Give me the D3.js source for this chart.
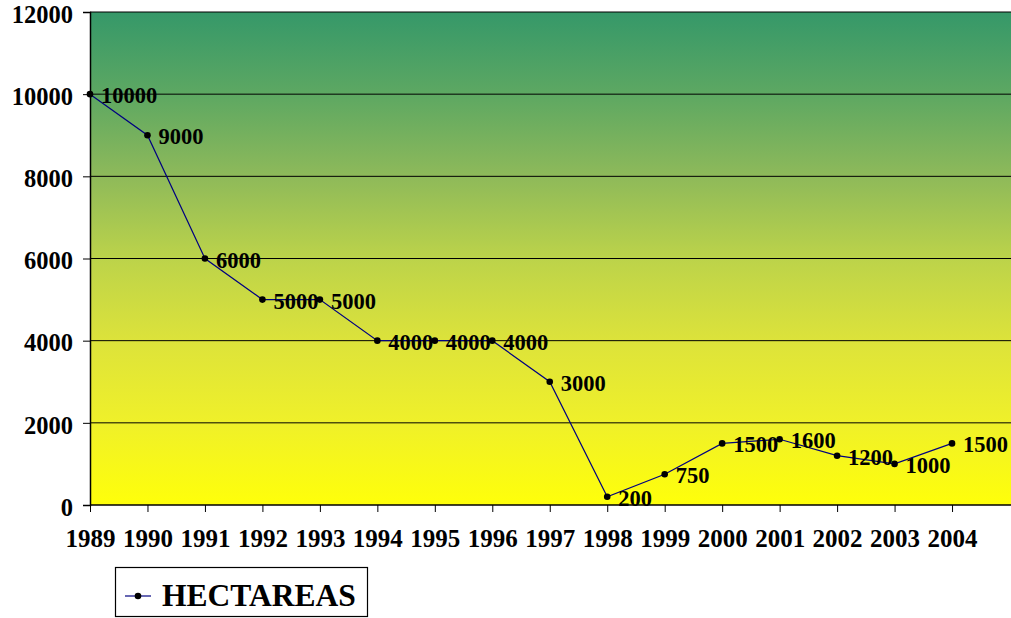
<!DOCTYPE html>
<html><head><meta charset="utf-8">
<script src="https://cdn.jsdelivr.net/npm/d3@7"></script>
<style>body{margin:0;background:#fff}svg{display:block}</style>
</head><body>
<script>
const years = [1989,1990,1991,1992,1993,1994,1995,1996,1997,1998,1999,2000,2001,2002,2003,2004];
const hectareas = [10000,9000,6000,5000,5000,4000,4000,4000,3000,200,750,1500,1600,1200,1000,1500];
const yTicks = [0,2000,4000,6000,8000,10000,12000];
const seriesName = "HECTAREAS";

const W = 1011, H = 618;
const svg = d3.select("body").append("svg").attr("width", W).attr("height", H);
const x = d3.scaleLinear().domain([1989, 2005]).range([90, 1009.5]);
const y = d3.scaleLinear().domain([0, 12000]).range([505, 12]);
const font = "'Liberation Serif','Times New Roman',serif";

const defs = svg.append("defs");
const g = defs.append("linearGradient").attr("id","bg").attr("x1",0).attr("y1",0).attr("x2",0).attr("y2",1);
[[0,"#359869"],[0.17,"#5ea862"],[0.33,"#8db95a"],[0.5,"#bcd34a"],[0.67,"#dde33a"],[0.83,"#eff02a"],[1,"#ffff0a"]]
  .forEach(([o,c]) => g.append("stop").attr("offset",o).attr("stop-color",c));

svg.append("rect").attr("x", x(1989)).attr("y", y(12000)).attr("width", W - x(1989)).attr("height", y(0) - y(12000)).attr("fill","url(#bg)");

// gridlines
svg.append("g").selectAll("line").data(yTicks.filter(d => d > 0)).join("line")
  .attr("x1", x(1989)).attr("x2", W).attr("y1", d => y(d)).attr("y2", d => y(d))
  .attr("stroke","#000").attr("stroke-width",1);

// axes
const yAxis = d3.axisLeft(y).tickValues(yTicks).tickSize(7).tickPadding(10).tickFormat(d3.format("d"));
const ya = svg.append("g").attr("transform",`translate(${x(1989)},0)`).call(yAxis);
ya.select(".domain").attr("stroke","#000").attr("stroke-width",1.5);
ya.selectAll("text").attr("font-family",font).attr("font-weight","bold").attr("font-size",24.5).attr("fill","#000").attr("dy","0.42em");

const xAxis = d3.axisBottom(x).tickValues(years).tickSize(7).tickPadding(17).tickFormat(d3.format("d"));
const xa = svg.append("g").attr("transform",`translate(0,${y(0)})`).call(xAxis);
xa.select(".domain").attr("d", `M${x(1989)},0H${W}`).attr("stroke","#000").attr("stroke-width",1.5);
xa.selectAll("text").attr("font-family",font).attr("font-weight","bold").attr("font-size",25).attr("fill","#000");

// line
const pts = years.map((yr,i) => ({yr, v: hectareas[i]}));
svg.append("path").datum(pts)
  .attr("d", d3.line().x(d => x(d.yr)).y(d => y(d.v)))
  .attr("fill","none").attr("stroke","#000080").attr("stroke-width",1.2);
svg.append("g").selectAll("circle").data(pts).join("circle")
  .attr("cx", d => x(d.yr)).attr("cy", d => y(d.v)).attr("r", 3.3).attr("fill","#000");
svg.append("g").selectAll("text").data(pts).join("text")
  .attr("x", d => x(d.yr) + 11).attr("y", d => y(d.v) + 9)
  .attr("font-family",font).attr("font-weight","bold").attr("font-size",22.5).attr("fill","#000")
  .text(d => d.v);

// legend
const lg = svg.append("g");
lg.append("rect").attr("x",115.5).attr("y",567.5).attr("width",252).attr("height",49).attr("fill","#fff").attr("stroke","#000").attr("stroke-width",1.2);
lg.append("line").attr("x1",125).attr("x2",151).attr("y1",596).attr("y2",596).attr("stroke","#000080").attr("stroke-width",1.2);
lg.append("circle").attr("cx",138).attr("cy",596).attr("r",3.3).attr("fill","#000");
lg.append("text").attr("x",162).attr("y",606).attr("font-family",font).attr("font-weight","bold").attr("font-size",31.5).attr("fill","#000").text(seriesName);
</script>
</body></html>
